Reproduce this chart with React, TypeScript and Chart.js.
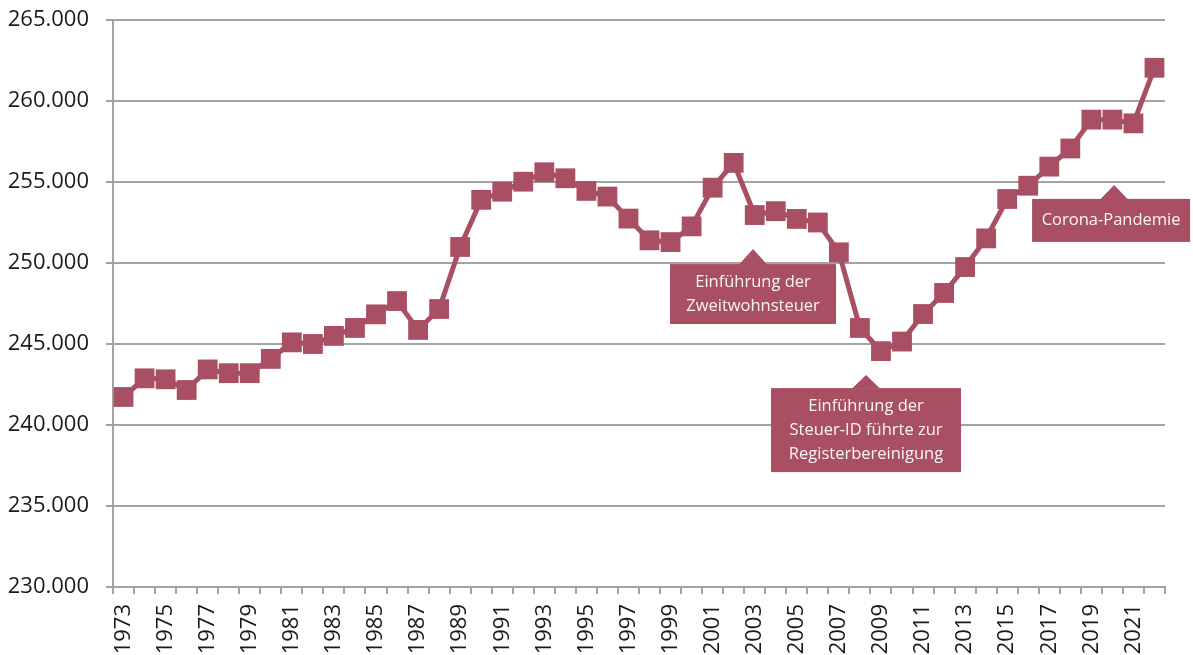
import React, { useEffect, useRef } from 'react';
import { Chart, registerables } from 'chart.js';

Chart.register(...registerables);

const years = [
  '1973', '1974', '1975', '1976', '1977', '1978', '1979', '1980', '1981', '1982',
  '1983', '1984', '1985', '1986', '1987', '1988', '1989', '1990', '1991', '1992',
  '1993', '1994', '1995', '1996', '1997', '1998', '1999', '2000', '2001', '2002',
  '2003', '2004', '2005', '2006', '2007', '2008', '2009', '2010', '2011', '2012',
  '2013', '2014', '2015', '2016', '2017', '2018', '2019', '2020', '2021', '2022',
];

const residents = [
  241730, 242880, 242820, 242160, 243430, 243200, 243200, 244080, 245100, 245000,
  245500, 245990, 246830, 247650, 245870, 247160, 250990, 253900, 254400, 255020,
  255600, 255230, 254450, 254100, 252740, 251400, 251290, 252260, 254650, 256180,
  252960, 253200, 252720, 252500, 250660, 245990, 244560, 245150, 246850, 248150,
  249750, 251520, 253950, 254770, 255950, 257070, 258850, 258850, 258620, 262050,
];

const yTickValues = [230000, 235000, 240000, 245000, 250000, 255000, 260000, 265000];
const yTickLabels = ['230.000', '235.000', '240.000', '245.000', '250.000', '255.000', '260.000', '265.000'];

// annotation anchors (tip of the pointer) in data space: fractional year index, value
const noteTexts = [
  ['Einführung der', 'Zweitwohnsteuer'],
  ['Einführung der', 'Steuer-ID führte zur', 'Registerbereinigung'],
  ['Corona-Pandemie'],
];
const noteYears = [2002.92, 2008.29, 2020.08];
const noteValues = [250860, 243080, 254820];

// box geometry relative to pointer tip (pixels)
const noteBoxes = [
  { left: -83, right: 83, top: 15, bottom: 75 },
  { left: -95, right: 95, top: 13, bottom: 97 },
  { left: -82, right: 76, top: 14, bottom: 57 },
];

const MAIN = '#a94f63';
const GRID = '#a3a3a3';
const FONT = "'Open Sans', 'DejaVu Sans', sans-serif";

const notesPlugin = {
  id: 'notes',
  afterDatasetsDraw(chart: any) {
    const { ctx } = chart;
    const xs = chart.scales.x;
    const ys = chart.scales.y;
    ctx.save();
    noteTexts.forEach((lines, i) => {
      const ax = xs.getPixelForValue(noteYears[i] - 1973);
      const ay = ys.getPixelForValue(noteValues[i]);
      const b = noteBoxes[i];
      const l = ax + b.left;
      const r = ax + b.right;
      const t = ay + b.top;
      const bt = ay + b.bottom;
      ctx.fillStyle = MAIN;
      ctx.fillRect(l, t, r - l, bt - t);
      ctx.beginPath();
      ctx.moveTo(ax, ay);
      ctx.lineTo(ax + 14, t + 0.5);
      ctx.lineTo(ax - 14, t + 0.5);
      ctx.closePath();
      ctx.fill();
      ctx.fillStyle = '#fbf4f5';
      ctx.font = `16.5px ${FONT}`;
      ctx.textAlign = 'center';
      ctx.textBaseline = 'middle';
      const lh = 24;
      const cx = (l + r) / 2;
      const cy = (t + bt) / 2;
      lines.forEach((s, k) => {
        ctx.fillText(s, cx, cy + (k - (lines.length - 1) / 2) * lh);
      });
    });
    ctx.restore();
  },
};

export default function App() {
  const ref = useRef<HTMLCanvasElement | null>(null);

  useEffect(() => {
    if (!ref.current) return;
    Chart.defaults.font.family = FONT;
    const chart = new Chart(ref.current, {
      type: 'line',
      data: {
        labels: years,
        datasets: [
          {
            data: residents,
            borderColor: MAIN,
            backgroundColor: MAIN,
            borderWidth: 5,
            pointStyle: 'rect',
            pointRadius: 14,
            pointHoverRadius: 14,
            pointBackgroundColor: MAIN,
            pointBorderWidth: 0,
            tension: 0,
            clip: false as any,
          },
        ],
      },
      options: {
        animation: false,
        responsive: true,
        maintainAspectRatio: false,
        layout: { padding: { top: 20, right: 28, left: 0, bottom: 0 } },
        plugins: {
          legend: { display: false },
          tooltip: { enabled: false },
        },
        scales: {
          x: {
            type: 'category',
            offset: true,
            grid: {
              display: true,
              offset: true,
              drawOnChartArea: false,
              drawTicks: true,
              tickLength: 7,
              color: GRID,
              lineWidth: 2,
            },
            border: { display: true, color: GRID, width: 2 },
            ticks: {
              autoSkip: false,
              maxRotation: 90,
              minRotation: 90,
              padding: 10,
              color: '#1a1a1a',
              font: { size: 22 },
              callback: (_v: any, i: number) => (i % 2 === 0 ? years[i] : ''),
            },
            afterFit: (s: any) => {
              s.height = 68;
              s.paddingLeft = 0;
              s.paddingRight = 0;
            },
          },
          y: {
            min: 230000,
            max: 265000,
            afterBuildTicks: (s: any) => {
              s.ticks = yTickValues.map((v) => ({ value: v }));
            },
            grid: {
              color: GRID,
              lineWidth: 2,
              tickLength: 7,
            },
            border: { display: true, color: GRID, width: 2 },
            ticks: {
              padding: 17,
              color: '#1a1a1a',
              font: { size: 22 },
              callback: (v: any) => {
                const idx = yTickValues.indexOf(Number(v));
                return idx >= 0 ? yTickLabels[idx] : '';
              },
            },
            afterFit: (s: any) => {
              s.width = 113;
              s.paddingTop = 0;
              s.paddingBottom = 0;
            },
          },
        },
      },
      plugins: [notesPlugin],
    });
    return () => chart.destroy();
  }, []);

  return (
    <div style={{ position: 'absolute', left: 0, top: 0, width: 1193, height: 655, background: '#fff' }}>
      <canvas ref={ref} />
    </div>
  );
}
